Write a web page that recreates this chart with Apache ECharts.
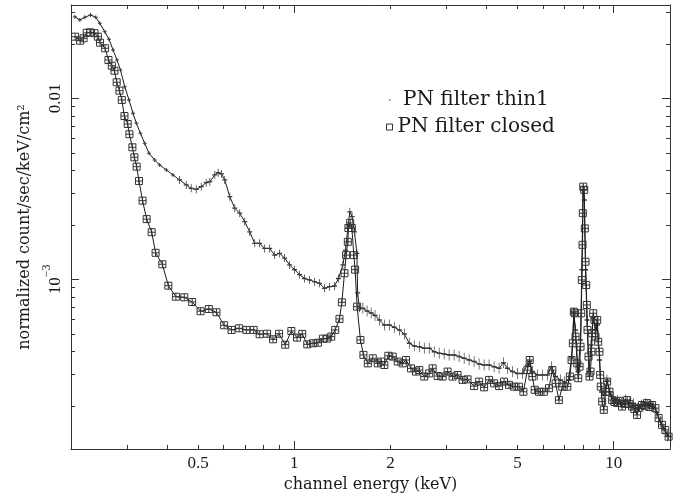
<!DOCTYPE html>
<html><head><meta charset="utf-8">
<script src="https://cdn.jsdelivr.net/npm/echarts@6/dist/echarts.min.js"></script>
<style>html,body{margin:0;padding:0;background:#fff}#c{width:685px;height:495px}</style>
</head><body><div id="c"></div>
<script>
// ---- data (keV, normalized count/sec/keV/cm^2) ----
const energyThin = [
 0.2056,0.2132,0.2210,0.2302,0.2391,0.2461,0.2552,0.2631,0.2708,0.2787,
 0.2857,0.2946,0.3039,0.3127,0.3204,0.3298,0.3402,0.3509,0.3655,0.3789,
 0.3976,0.4169,0.4375,0.4591,0.4758,0.4933,0.5113,0.530,0.544,0.5638,
 0.5777,0.5916,0.6058,0.6281,0.6511,0.6749,0.6996,0.7252,0.7518,0.779,
 0.8078,0.8374,0.868,0.8998,0.9327,0.9668,1.002,1.039,1.077,1.116,
 1.157,1.199,1.243,1.289,1.336,1.375,1.419,1.446,1.471,1.492,
 1.517,1.543,1.570,1.579,1.599,1.639,1.690,1.740,1.790,1.846,
 1.914,1.984,2.056,2.132,2.210,2.291,2.375,2.462,2.552,2.645,
 2.742,2.842,2.946,3.053,3.165,3.281,3.402,3.526,3.655,3.789,
 3.928,4.071,4.221,4.375,4.515,4.647,4.817,4.994,5.176,5.366,
 5.456,5.563,5.768,5.978,6.196,6.377,6.577,6.818,7.017,7.222,
 7.379,7.501,7.593,7.731,7.871,7.945,8.014,8.090,8.160,8.248,
 8.367,8.488,8.624,8.767,8.893,9.023,9.154,9.320,9.524,9.733,
 9.979,10.27,10.57,10.88,11.19,11.52,11.86,12.20,12.56,12.93,
 13.30,13.64,13.99,14.35,14.72
];
const fluxThin = [
 0.0282,0.02708,0.02803,0.02886,0.02803,0.02597,0.02333,0.02118,0.01849,0.01628,
 0.01433,0.01159,0.00979,0.00826,0.00728,0.00641,0.00564,0.00497,0.00456,0.00428,
 0.00402,0.00377,0.00354,0.00332,0.00318,0.00314,0.00325,0.00342,0.00346,0.00377,
 0.00388,0.00382,0.00354,0.00286,0.00247,0.00232,0.00208,0.00183,0.00158,0.00158,
 0.00148,0.00148,0.00136,0.00139,0.00131,0.00120,0.00113,0.00106,0.00101,0.000991,
 0.000970,0.000950,0.000892,0.000910,0.000918,0.00101,0.00120,0.00145,0.00191,0.00236,
 0.00222,0.00183,0.00139,0.000840,0.000691,0.000691,0.000668,0.000651,0.000631,0.000596,
 0.000559,0.000559,0.000543,0.000525,0.000499,0.000443,0.000428,0.000424,0.000416,0.000416,
 0.000398,0.000390,0.000387,0.000382,0.000382,0.000374,0.000366,0.000358,0.000351,0.000340,
 0.000336,0.000336,0.000329,0.000322,0.000346,0.000322,0.000309,0.000302,0.000302,0.000336,
 0.000351,0.000309,0.000296,0.000296,0.000296,0.000329,0.000290,0.000278,0.000271,0.000278,
 0.000367,0.000651,0.000525,0.000308,0.000462,0.00113,0.00312,0.00274,0.00113,0.000596,
 0.000308,0.000434,0.000611,0.000525,0.000559,0.000358,0.000238,0.000229,0.000278,0.000238,
 0.000221,0.000213,0.000207,0.000215,0.000207,0.000205,0.000192,0.000202,0.000205,0.000202,
 0.000197,0.000183,0.000163,0.000149,0.000136
];
const energyClosed = [
 0.206,0.2136,0.219,0.224,0.2296,0.237,0.2427,0.2466,0.2557,0.262,
 0.2684,0.2736,0.278,0.2836,0.2884,0.294,0.301,0.3047,0.3113,0.3158,
 0.321,0.3265,0.335,0.345,0.3577,0.368,0.3864,0.4034,0.426,0.4525,
 0.479,0.509,0.540,0.5706,0.603,0.636,0.672,0.708,0.746,0.779,
 0.822,0.858,0.896,0.937,0.979,1.020,1.059,1.098,1.144,1.186,
 1.229,1.268,1.305,1.343,1.385,1.409,1.436,1.453,1.471,1.477,
 1.496,1.514,1.536,1.550,1.573,1.611,1.646,1.699,1.761,1.825,
 1.869,1.914,1.970,2.033,2.108,2.185,2.237,2.319,2.404,2.462,
 2.552,2.645,2.710,2.810,2.912,3.019,3.129,3.244,3.363,3.486,
 3.655,3.789,3.928,4.071,4.221,4.375,4.535,4.700,4.873,5.051,
 5.214,5.366,5.456,5.563,5.656,5.834,6.047,6.268,6.423,6.577,
 6.735,6.901,7.154,7.289,7.379,7.447,7.501,7.555,7.593,7.686,
 7.743,7.815,7.871,7.911,7.945,7.985,8.002,8.026,8.083,8.119,
 8.160,8.200,8.236,8.277,8.337,8.397,8.458,8.519,8.562,8.624,
 8.704,8.767,8.874,8.938,9.023,9.068,9.107,9.200,9.307,9.422,
 9.537,9.696,9.886,10.05,10.25,10.42,10.62,10.80,11.01,11.19,
 11.41,11.60,11.83,12.03,12.26,12.47,12.72,12.93,13.18,13.50,
 13.82,14.16,14.50,14.85
];
const fluxClosed = [
 0.0219,0.0208,0.02145,0.0230,0.02315,0.0229,0.0219,0.0203,0.0189,0.01628,
 0.01514,0.01421,0.01226,0.01102,0.00979,0.00798,0.00721,0.00633,0.00536,0.00472,
 0.00419,0.00349,0.00272,0.00215,0.00182,0.00140,0.00121,0.000922,0.000801,0.000795,
 0.000749,0.000666,0.000685,0.000657,0.000557,0.000525,0.000536,0.000525,0.000525,0.000497,
 0.000500,0.000466,0.000500,0.000435,0.000518,0.000476,0.000499,0.000437,0.000443,0.000446,
 0.000470,0.000470,0.000482,0.000525,0.000604,0.000746,0.00108,0.00136,0.00161,0.00192,
 0.00205,0.00192,0.00136,0.00113,0.000706,0.000462,0.000382,0.000343,0.000366,0.000343,
 0.000351,0.000336,0.000378,0.000374,0.000351,0.000343,0.000358,0.000322,0.000309,0.000315,
 0.000290,0.000302,0.000322,0.000292,0.000290,0.000309,0.000290,0.000296,0.000278,0.000280,
 0.000257,0.000272,0.000253,0.000278,0.000266,0.000257,0.000272,0.000261,0.000255,0.000255,
 0.000239,0.000315,0.000358,0.000290,0.000245,0.000239,0.000239,0.000250,0.000315,0.000266,
 0.000215,0.000255,0.000255,0.000290,0.000358,0.000443,0.000662,0.000649,0.000482,0.000343,
 0.000284,0.000329,0.000424,0.000649,0.000991,0.00155,0.00232,0.00325,0.00312,0.00191,
 0.00125,0.000930,0.000721,0.000525,0.000374,0.000290,0.000309,0.000398,0.000503,0.000649,
 0.000596,0.000482,0.000596,0.000452,0.000398,0.000296,0.000255,0.000211,0.000190,0.000239,
 0.000272,0.000239,0.000215,0.000210,0.000207,0.000213,0.000198,0.000205,0.000215,0.000205,
 0.000198,0.000192,0.000178,0.000195,0.000202,0.000200,0.000207,0.000197,0.000202,0.000194,
 0.000171,0.000157,0.000147,0.000135
];
const seriesNames = ['PN filter thin1', 'PN filter closed'];
const xTitle = 'channel energy (keV)';
const yTitle = 'normalized count/sec/keV/cm\u00B2';
const xLabelValues = [0.5, 1, 2, 5, 10];
const xMajorTicks = [1, 10];
const xMinorTicks = [0.3,0.4,0.5,0.6,0.7,0.8,0.9,2,3,4,5,6,7,8,9];
const yLabelValues = [0.001, 0.01];
const yMajorTicks = [0.001, 0.01];
const yMinorTicks = [0.0002,0.0003,0.0004,0.0005,0.0006,0.0007,0.0008,0.0009,
                     0.002,0.003,0.004,0.005,0.006,0.007,0.008,0.009,0.02,0.03];
const xRange = [0.2, 15];
const yRange = [1.154e-4, 0.03277];

// ---- style ----
const AX = '#333', TXT = '#1a1a1a';
const SERIF = '"DejaVu Serif", serif';
const NUMF = '"Liberation Serif", serif';

function logAxis(range, position, ticks, len, showLine) {
  return {
    type: 'log', logBase: 10, min: range[0], max: range[1], position: position,
    axisLine: {show: showLine, onZero: false, lineStyle: {color: AX, width: 1}},
    axisTick: {show: true, inside: true, length: len, customValues: ticks, lineStyle: {color: AX, width: 1}},
    axisLabel: {show: false},
    splitLine: {show: false}, minorTick: {show: false}, minorSplitLine: {show: false}
  };
}

const xBottom = logAxis(xRange, 'bottom', xMajorTicks, 8, true);
xBottom.axisLabel = {
  show: true, customValues: xLabelValues, margin: 6,
  color: TXT, fontFamily: NUMF, fontSize: 17,
  formatter: v => String(v)
};
xBottom.name = xTitle;
xBottom.nameLocation = 'middle';
xBottom.nameGap = 27;
xBottom.nameTextStyle = {color: TXT, fontFamily: SERIF, fontSize: 16};

const yLeft = logAxis(yRange, 'left', yMajorTicks, 8, true);
yLeft.axisLabel = {
  show: true, customValues: yLabelValues, margin: 7, rotate: 90,
  color: TXT, fontFamily: NUMF, fontSize: 17,
  formatter: v => {
    const e = Math.round(Math.log10(v));
    return e === -2 ? '0.01' : '{m|10}{e|\u2212' + (-e) + '}';
  },
  rich: {
    m: {fontFamily: NUMF, fontSize: 17, color: TXT, lineHeight: 23, verticalAlign: 'bottom'},
    e: {fontFamily: NUMF, fontSize: 12, color: TXT, lineHeight: 12, verticalAlign: 'top'}
  }
};
yLeft.name = yTitle;
yLeft.nameLocation = 'middle';
yLeft.nameGap = 37;
yLeft.nameTextStyle = {color: TXT, fontFamily: SERIF, fontSize: 16};

function errSize(v) {
  if (v[0] < 0.42) return [4, 4];
  if (v[0] < 1.6) return [5, 8];
  return [5, 11];
}

const option = {
  animation: false,
  backgroundColor: '#fff',
  textStyle: {fontFamily: SERIF},
  grid: {left: 71, right: 15, top: 5, bottom: 46, outerBoundsMode: 'none', containLabel: false},
  xAxis: [
    xBottom,
    logAxis(xRange, 'bottom', xMinorTicks, 4, false),
    logAxis(xRange, 'top', xMajorTicks, 8, true),
    logAxis(xRange, 'top', xMinorTicks, 4, false)
  ],
  yAxis: [
    yLeft,
    logAxis(yRange, 'left', yMinorTicks, 4, false),
    logAxis(yRange, 'right', yMajorTicks, 8, true),
    logAxis(yRange, 'right', yMinorTicks, 4, false)
  ],
  legend: [
    {
      data: [{name: seriesNames[0], icon: 'circle'}],
      left: 389, top: 90, padding: 0, selectedMode: false,
      itemWidth: 2, itemHeight: 2,
      itemStyle: {color: '#999', borderWidth: 0},
      textStyle: {color: TXT, fontFamily: SERIF, fontSize: 20, padding: [0, 0, 0, 7]}
    },
    {
      data: [{name: seriesNames[1], icon: 'rect'}],
      left: 386, top: 117, padding: 0, selectedMode: false,
      itemWidth: 6, itemHeight: 6,
      itemStyle: {color: '#fff', borderColor: '#333', borderWidth: 1},
      textStyle: {color: TXT, fontFamily: SERIF, fontSize: 20}
    }
  ],
  series: [
    {
      name: seriesNames[0], type: 'line',
      data: energyThin.map((e, i) => [e, fluxThin[i]]),
      symbol: 'path://M0,5L10,5M5,0L5,10',
      symbolSize: errSize,
      showAllSymbol: true,
      lineStyle: {color: '#1a1a1a', width: 1},
      itemStyle: {color: '#3a3a3a', borderColor: '#3a3a3a', borderWidth: 1},
      emphasis: {disabled: true}, z: 2
    },
    {
      name: seriesNames[1], type: 'line',
      data: energyClosed.map((e, i) => [e, fluxClosed[i]]),
      symbol: 'path://M0,0L10,0L10,10L0,10ZM5,0L5,10M0,5L10,5',
      symbolSize: 7,
      showAllSymbol: true,
      lineStyle: {color: '#1a1a1a', width: 1},
      itemStyle: {color: 'rgba(255,255,255,0)', borderColor: '#333', borderWidth: 1},
      emphasis: {disabled: true}, z: 3
    }
  ]
};
const chart = echarts.init(document.getElementById('c'), null, {renderer: 'canvas'});
chart.setOption(option);
</script>
</body></html>
